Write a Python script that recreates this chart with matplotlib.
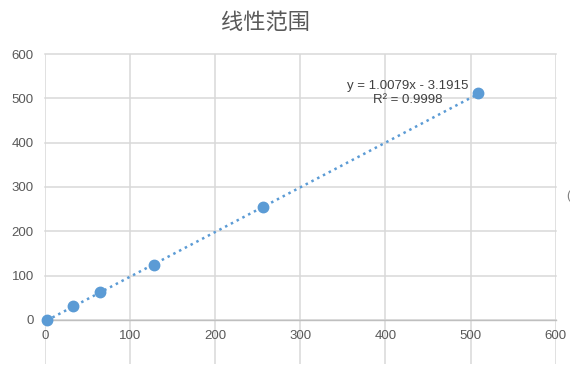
import numpy as np
import matplotlib.pyplot as plt

plt.rcParams['font.family'] = ['Liberation Sans', 'Noto Sans CJK SC', 'DejaVu Sans']

# data
conc = [2, 33, 65, 128, 256, 509]
resp = [1, 30.5, 62, 123, 254, 511]
x_ticks = [0, 100, 200, 300, 400, 500, 600]
y_ticks = [0, 100, 200, 300, 400, 500, 600]
title = '线性范围'
eq_label = 'y = 1.0079x - 3.1915\nR² = 0.9998'

blue = '#5b9bd5'
grid_c = '#d9d9d9'
text_c = '#595959'

fig = plt.figure(figsize=(5.70, 3.65), dpi=100)
ax = fig.add_axes([45 / 570, 0.002, 510.6 / 570, 1 - 54 / 365 - 0.002])

ax.set_xlim(0, 600)
ax.set_ylim(-100, 600)

# grid
ax.set_xticks(x_ticks)
ax.set_yticks(y_ticks)
ax.grid(True, color=grid_c, linewidth=1.1)
for gl in ax.get_xgridlines() + ax.get_ygridlines():
    gl.set_clip_on(False)
ax.set_axisbelow(True)
for s in ['top', 'right', 'left']:
    ax.spines[s].set_visible(False)
ax.spines['bottom'].set_position(('data', 0))
ax.spines['bottom'].set_color('#bfbfbf')
ax.spines['bottom'].set_linewidth(1.0)
ax.tick_params(length=0, labelsize=9.5, labelcolor=text_c)
ax.tick_params(axis='x', pad=7)
ax.tick_params(axis='y', pad=8)

# linear trendline
k, b = np.polyfit(conc, resp, 1)
xs = np.array([min(conc), max(conc)])
ax.plot(xs, k * xs + b, linestyle=(0, (1, 1.6)), color=blue, linewidth=1.8, zorder=3)
ax.plot(conc, resp, 'o', color=blue, markersize=7.5, zorder=4, clip_on=False)

ax.text(426, 512, eq_label, ha='center', va='center', fontsize=9.5,
        color='#404040', linespacing=1.25)

fig.text(266 / 570, 1 - 22 / 365, title, ha='center', va='center',
         fontsize=16, color=text_c, fontweight='light',
         family=['Noto Sans CJK SC', 'DejaVu Sans'])
fig.text(566 / 570, 1 - 196 / 365, '(', ha='left', va='center', fontsize=9,
         color='#7f7f7f')

fig.savefig('out.png', dpi=100)
